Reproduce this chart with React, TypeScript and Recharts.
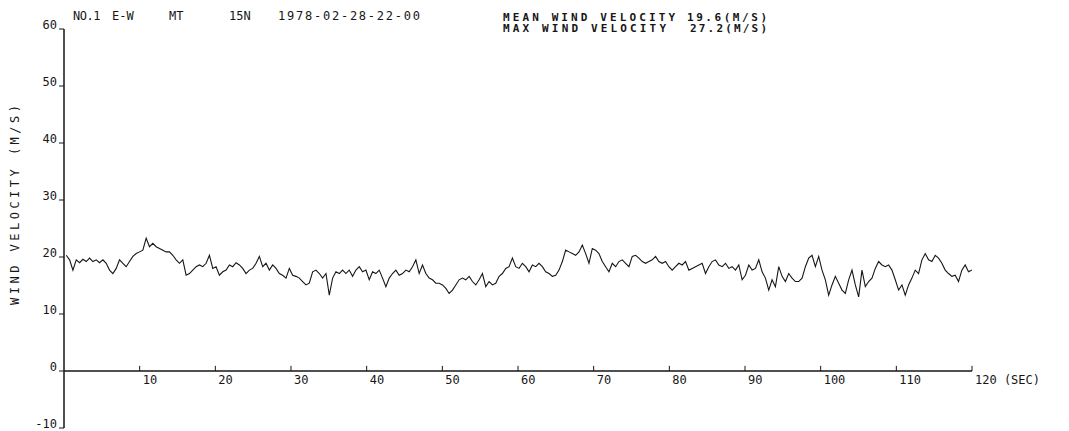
import React from "react";
import { LineChart, Line, XAxis, YAxis, ReferenceLine, ReferenceDot } from "recharts";

// sampling of the trace (seconds)
const START = 0.3;
const STEP = 0.44;

// wind velocity (m/s)
const seg0to30 = [
  20.3, 19.5, 17.7, 19.5, 19.0, 19.6, 19.2, 19.8, 19.2, 19.5, 19.0, 19.5, 18.9, 17.7, 17.1, 18.0, 19.5, 18.9, 18.3, 19.2,
  20.1, 20.6, 20.9, 21.2, 23.3, 21.8, 22.4, 21.8, 21.5, 21.2, 20.9, 20.9, 20.3, 19.5, 18.9, 19.5, 16.8, 17.1, 17.7, 18.3,
  18.6, 18.3, 18.9, 20.3, 18.0, 18.3, 16.8, 17.4, 17.7, 18.6, 18.3, 19.0, 18.6, 18.0, 17.1, 17.7, 18.0, 18.9, 20.1, 18.3,
  18.9, 17.7, 18.6, 18.0, 17.1, 16.8, 16.3, 18.0, 16.8, 16.6,
];
const seg30to63 = [
  16.3, 15.7, 15.1, 15.4, 17.4, 17.7, 17.1, 16.3, 17.1, 13.3, 16.3, 17.4, 17.1, 17.7, 17.1, 17.7, 16.6, 17.7, 18.3, 17.4,
  17.7, 16.0, 17.4, 17.1, 17.7, 16.3, 14.8, 16.3, 17.1, 17.7, 16.8, 17.1, 17.7, 17.4, 18.3, 19.5, 17.1, 18.6, 17.1, 16.3,
  16.0, 15.4, 15.4, 15.1, 14.5, 13.6, 14.2, 15.1, 16.0, 16.3, 16.0, 16.6, 15.7, 15.1, 16.0, 17.1, 14.8, 15.7, 15.1, 15.4,
  16.6, 17.1, 18.0, 18.3, 19.8, 18.3, 18.0, 18.9, 18.3, 17.4, 18.6, 18.3, 18.9, 18.3, 17.4,
];
const seg63to96 = [
  17.1, 16.6, 16.8, 17.7, 19.2, 21.2, 20.9, 20.6, 20.3, 20.9, 22.1, 20.6, 18.9, 21.5, 21.2, 20.6, 19.2, 18.3, 17.4, 18.9,
  18.3, 19.2, 19.5, 18.9, 18.3, 20.1, 20.3, 19.8, 19.2, 18.9, 19.2, 19.5, 20.1, 19.2, 18.9, 19.2, 18.3, 17.7, 18.3, 18.9,
  18.6, 19.2, 17.7, 18.0, 18.3, 18.6, 18.9, 17.1, 18.3, 19.2, 19.5, 18.6, 18.3, 18.9, 18.0, 18.3, 17.7, 18.6, 16.0, 16.8,
  18.6, 17.7, 18.0, 19.5, 17.4, 16.3, 14.2, 16.0, 14.8, 18.3, 16.6, 15.7, 17.1, 16.3, 15.7,
];
const seg96to120 = [
  15.7, 16.3, 18.3, 19.8, 20.3, 18.3, 20.1, 17.7, 16.0, 13.3, 15.1, 16.6, 15.4, 14.2, 13.6, 16.0, 17.7, 15.1, 13.0, 17.7,
  14.8, 15.7, 16.3, 18.0, 19.2, 18.6, 18.3, 18.6, 17.7, 16.0, 14.2, 15.1, 13.3, 15.1, 16.3, 17.7, 17.1, 19.5, 20.6, 19.5,
  19.2, 20.3, 19.8, 18.9, 17.7, 17.1, 16.6, 16.8, 15.7, 17.7, 18.6, 17.4, 17.7,
];

const yTicks = [-10, 0, 10, 20, 30, 40, 50, 60];
const xTicks = [10, 20, 30, 40, 50, 60, 70, 80, 90, 100, 110, 120];
const xTickLabels = ["10", "20", "30", "40", "50", "60", "70", "80", "90", "100", "110", "120  (SEC)"];

const values = [...seg0to30, ...seg30to63, ...seg63to96, ...seg96to120];
const data = values.map((v, i) => ({ t: +(START + i * STEP).toFixed(2), v }));

const FONT = "'DejaVu Sans Mono', 'Liberation Mono', monospace";
const INK = "#161616";

const YTick = (props: any) => {
  const { x, y, payload } = props;
  return (
    <text x={x} y={y} textAnchor="end" fontSize={12} fontFamily={FONT} fill={INK}>
      {payload.value}
    </text>
  );
};

const XTickLabel = (props: any) => {
  const vb = props.viewBox || {};
  return (
    <text x={(vb.x || 0) + 3} y={(vb.y || 0) + 13} fontSize={12} fontFamily={FONT} fill={INK}>
      {props.text}
    </text>
  );
};

export default function App() {
  return (
    <div style={{ position: "absolute", left: 0, top: 0, width: 1069, height: 431, background: "#fff" }}>
      <LineChart width={1069} height={431} data={data} margin={{ top: 29, right: 97, bottom: 3, left: 4 }}>
        <XAxis dataKey="t" type="number" domain={[0, 120]} hide />
        <YAxis
          type="number"
          domain={[-10, 60]}
          ticks={yTicks}
          interval={0}
          width={60}
          tickSize={5}
          tickMargin={2}
          axisLine={{ stroke: INK, strokeWidth: 1.5 }}
          tickLine={{ stroke: INK, strokeWidth: 1 }}
          tick={<YTick />}
        />
        <ReferenceLine y={0} stroke={INK} strokeWidth={1.5} />
        {xTicks.map((t) => (
          <ReferenceLine
            key={"s" + t}
            segment={[
              { x: t, y: 0 },
              { x: t, y: 0.9 },
            ]}
            stroke={INK}
            strokeWidth={1}
          />
        ))}
        {xTicks.map((t, i) => (
          <ReferenceDot
            key={"d" + t}
            x={t}
            y={0}
            r={0}
            fill="none"
            stroke="none"
            label={<XTickLabel text={xTickLabels[i]} />}
          />
        ))}
        <Line
          type="linear"
          dataKey="v"
          stroke={INK}
          strokeWidth={1.1}
          dot={false}
          isAnimationActive={false}
        />
      </LineChart>
      <svg
        width={1069}
        height={431}
        style={{ position: "absolute", left: 0, top: 0, pointerEvents: "none" }}
      >
        <g fontFamily={FONT} fill={INK}>
          <text x={73} y={20} fontSize={12} letterSpacing={-0.5}>NO.1</text>
          <text x={112} y={20} fontSize={12}>E-W</text>
          <text x={169} y={20} fontSize={12}>MT</text>
          <text x={229} y={20} fontSize={12}>15N</text>
          <text x={278} y={20} fontSize={12} textLength={142} lengthAdjust="spacing">1978-02-28-22-00</text>
          <text x={503} y={21} fontSize={11} fontWeight="bold" textLength={172} lengthAdjust="spacing">MEAN WIND VELOCITY</text>
          <text x={687} y={21} fontSize={11} fontWeight="bold" textLength={80} lengthAdjust="spacing">19.6(M/S)</text>
          <text x={503} y={32} fontSize={11} fontWeight="bold" textLength={163} lengthAdjust="spacing">MAX WIND VELOCITY</text>
          <text x={690} y={32} fontSize={11} fontWeight="bold" textLength={77} lengthAdjust="spacing">27.2(M/S)</text>
          <text
            x={0}
            y={0}
            fontSize={12}
            textAnchor="middle"
            textLength={200}
            lengthAdjust="spacing"
            transform="translate(19, 205) rotate(-90)"
          >
            WIND VELOCITY (M/S)
          </text>
        </g>
      </svg>
    </div>
  );
}
